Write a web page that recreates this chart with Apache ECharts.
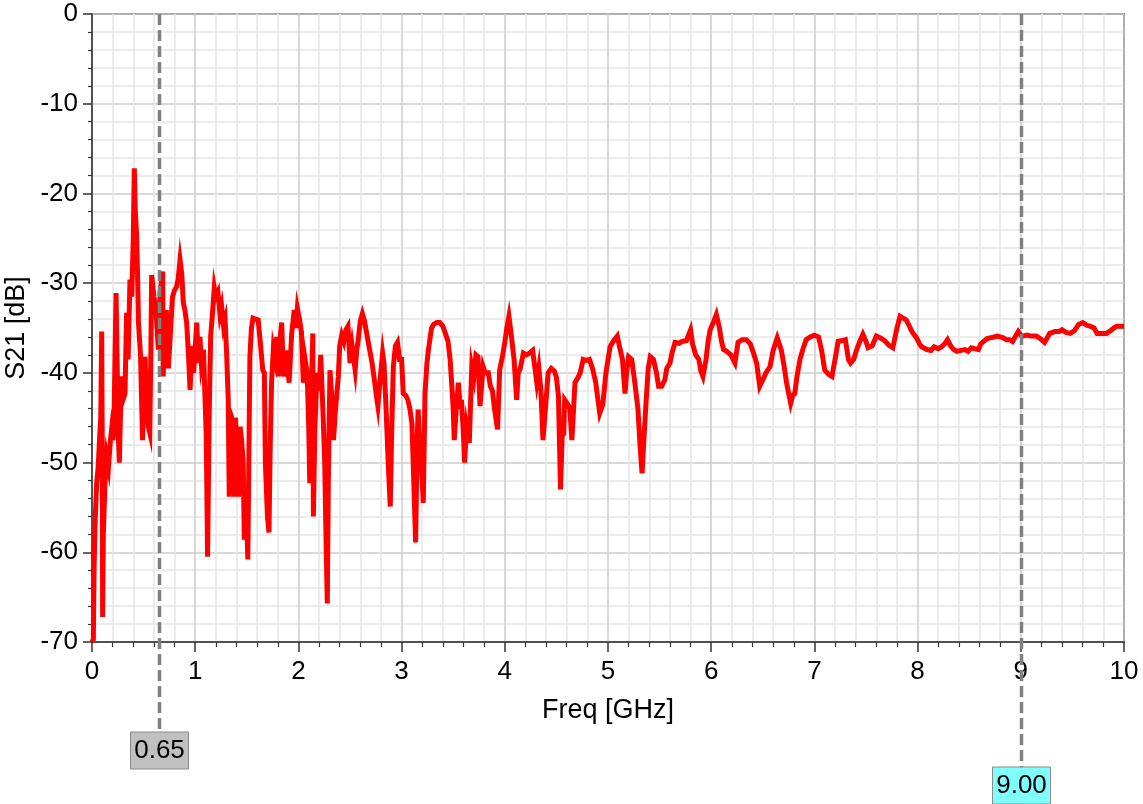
<!DOCTYPE html>
<html>
<head>
<meta charset="utf-8">
<title>S21</title>
<script src="https://cdn.jsdelivr.net/npm/echarts@6/dist/echarts.min.js"></script>
<style>
  html, body { margin: 0; padding: 0; background: #fff; }
  #chart { width: 1143px; height: 804px; }
</style>
</head>
<body>
<div id="chart"></div>
<script>
// Frequency sweep (GHz) and measured S21 (dB)
const freq = [
  0.00, 0.013, 0.02, 0.03, 0.045, 0.06, 0.075, 0.085, 0.094, 0.100, 0.103, 0.11, 0.126, 0.142, 0.16, 0.175, 0.19, 0.205, 0.215, 0.233,
  0.245, 0.255, 0.265, 0.275, 0.288, 0.30, 0.32, 0.335, 0.35, 0.368, 0.385, 0.40, 0.41, 0.42, 0.433, 0.445, 0.45, 0.47, 0.49, 0.50,
  0.514, 0.53, 0.546, 0.56, 0.57, 0.578, 0.60, 0.62, 0.643, 0.66, 0.685, 0.69, 0.70, 0.72, 0.74, 0.76, 0.78, 0.80, 0.82, 0.835,
  0.853, 0.87, 0.885, 0.90, 0.917, 0.935, 0.95, 0.97, 0.985, 1.015, 1.03, 1.046, 1.06, 1.08, 1.095, 1.107, 1.12, 1.135, 1.15, 1.17,
  1.185, 1.20, 1.22, 1.24, 1.256, 1.275, 1.29, 1.305, 1.32, 1.33, 1.34, 1.355, 1.38, 1.39, 1.40, 1.42, 1.435, 1.45, 1.465, 1.476,
  1.49, 1.51, 1.53, 1.545, 1.56, 1.585, 1.61, 1.63, 1.655, 1.67, 1.68, 1.70, 1.715, 1.727, 1.74, 1.757, 1.775, 1.79, 1.805, 1.82,
  1.838, 1.855, 1.88, 1.91, 1.935, 1.96, 1.975, 1.99, 2.01, 2.03, 2.048, 2.065, 2.085, 2.10, 2.11, 2.125, 2.14, 2.145, 2.16, 2.18,
  2.20, 2.216, 2.23, 2.24, 2.255, 2.27, 2.28, 2.29, 2.306, 2.32, 2.34, 2.36, 2.387, 2.40, 2.42, 2.44, 2.46, 2.48, 2.50, 2.52,
  2.55, 2.565, 2.58, 2.60, 2.62, 2.64, 2.66, 2.69, 2.715, 2.74, 2.755, 2.77, 2.79, 2.816, 2.83, 2.85, 2.87, 2.89, 2.905, 2.92,
  2.94, 2.96, 2.98, 3.00, 3.016, 3.04, 3.06, 3.08, 3.10, 3.115, 3.136, 3.15, 3.16, 3.18, 3.20, 3.21, 3.227, 3.245, 3.26, 3.29,
  3.31, 3.34, 3.37, 3.40, 3.43, 3.45, 3.47, 3.485, 3.50, 3.51, 3.53, 3.55, 3.57, 3.58, 3.60, 3.61, 3.63, 3.656, 3.68, 3.70,
  3.72, 3.74, 3.76, 3.79, 3.81, 3.84, 3.86, 3.88, 3.90, 3.93, 3.94, 3.95, 3.98, 4.00, 4.02, 4.04, 4.06, 4.09, 4.115, 4.13,
  4.15, 4.18, 4.21, 4.24, 4.27, 4.31, 4.33, 4.35, 4.37, 4.39, 4.42, 4.45, 4.48, 4.50, 4.52, 4.54, 4.56, 4.57, 4.58, 4.61,
  4.63, 4.65, 4.68, 4.71, 4.73, 4.76, 4.79, 4.82, 4.85, 4.88, 4.92, 4.95, 4.98, 5.02, 5.05, 5.09, 5.11, 5.14, 5.165, 5.18,
  5.20, 5.23, 5.26, 5.29, 5.31, 5.33, 5.35, 5.37, 5.39, 5.41, 5.44, 5.47, 5.49, 5.52, 5.55, 5.57, 5.60, 5.62, 5.65, 5.69,
  5.72, 5.76, 5.80, 5.82, 5.85, 5.88, 5.90, 5.92, 5.95, 5.97, 5.99, 6.02, 6.05, 6.08, 6.10, 6.12, 6.15, 6.19, 6.23, 6.26,
  6.30, 6.34, 6.38, 6.41, 6.44, 6.47, 6.50, 6.53, 6.57, 6.60, 6.64, 6.68, 6.71, 6.73, 6.77, 6.79, 6.81, 6.83, 6.86, 6.89,
  6.92, 6.96, 7.00, 7.04, 7.07, 7.10, 7.14, 7.17, 7.20, 7.23, 7.27, 7.30, 7.33, 7.35, 7.38, 7.41, 7.44, 7.47, 7.50, 7.52,
  7.56, 7.60, 7.64, 7.68, 7.72, 7.76, 7.80, 7.83, 7.86, 7.89, 7.92, 7.95, 7.99, 8.02, 8.04, 8.09, 8.13, 8.16, 8.20, 8.23,
  8.26, 8.29, 8.32, 8.35, 8.38, 8.42, 8.46, 8.49, 8.52, 8.55, 8.59, 8.61, 8.64, 8.67, 8.70, 8.74, 8.77, 8.80, 8.83, 8.86,
  8.89, 8.92, 8.95, 8.975, 9.00, 9.02, 9.06, 9.10, 9.15, 9.19, 9.23, 9.26, 9.28, 9.33, 9.37, 9.40, 9.44, 9.48, 9.52, 9.56,
  9.60, 9.64, 9.67, 9.71, 9.74, 9.79, 9.83, 9.87, 9.90, 9.93, 9.98, 10.0
];
const s21 = [
  -70, -69.7, -62, -56.7, -52.3, -50.5, -47, -45, -35.4, -50, -67.2, -58, -52.2, -49.3, -50.5, -48, -46.3, -47.5, -44, -31.1,
  -40, -47, -50.0, -45, -40.4, -43, -42.3, -33.3, -38.5, -29.6, -31.5, -25, -17.2, -22, -24.8, -31, -34.4, -38, -47.5, -44,
  -38.2, -43, -46.0, -46.7, -38, -29.1, -31.5, -33, -37.4, -31, -28.7, -40.4, -36, -33, -39.5, -35.5, -31.5, -30.8, -30.4, -29.5,
  -27.4, -29, -32.2, -33, -34.4, -38, -41.9, -37, -40, -34.4, -38.9, -36, -38.9, -37.4, -37.4, -47, -60.5, -45, -35.9, -33,
  -30.5, -31.5, -31, -33.5, -32.6, -34.8, -34.1, -38, -43.0, -53.8, -44.5, -45, -53.8, -45, -47, -53.8, -46, -47.5, -50, -58.6,
  -53, -60.8, -38.2, -35, -33.9, -34, -34.1, -36.5, -39.7, -40, -50.0, -56, -57.8, -48, -41.1, -37.4, -38.5, -36, -40.4, -36.5,
  -34.4, -40.4, -37.5, -41.1, -35.6, -33.0, -35, -32.8, -34, -35.5, -41.1, -38.5, -40, -46, -52.3, -42, -35.6, -56.0, -46, -40,
  -42, -38.0, -42, -44.9, -50, -60, -65.7, -52, -39.7, -42, -47.5, -44, -40.4, -37, -35.8, -36.5, -35.2, -34.8, -38.9, -37,
  -39.7, -37.5, -36.3, -34.2, -33.4, -34.2, -35.5, -37.4, -39, -41.1, -42.5, -43.7, -41, -37.8, -39, -44.1, -50, -54.9, -46, -39.3,
  -37, -36.6, -38.5, -38.5, -42.3, -42.5, -43, -44, -45.6, -51, -58.9, -48, -44.1, -49, -52, -54.5, -42.3, -39, -37.4, -35.0,
  -34.6, -34.4, -34.4, -34.8, -35.8, -36.5, -38.5, -41.1, -44, -47.5, -44, -41.1, -44, -43, -47, -50.0, -46, -47.8, -39.3, -40.5,
  -38, -38.2, -43.7, -39.3, -40, -40, -41.5, -42, -44, -46.3, -46.3, -39.7, -38, -36.6, -35, -33.7, -35.5, -38.5, -43.0, -40,
  -39.5, -37.8, -38, -37.8, -37.5, -41.1, -39.5, -42, -47.5, -44.5, -40.0, -39.5, -39.8, -40.5, -42.6, -53.0, -45.5, -47, -43.0, -43.5,
  -44, -47.5, -41.1, -40.5, -40, -38.5, -38.6, -38.5, -39.5, -41, -44.5, -43.5, -40, -37.1, -36.5, -35.9, -37, -38.5, -42.3, -40,
  -38.2, -38.5, -41.1, -44, -48, -51.2, -47, -43.0, -39.5, -38.2, -38.5, -40, -41.5, -41.5, -40.8, -39.5, -38.9, -37.8, -36.6, -36.7,
  -36.5, -36.4, -35.2, -36.8, -38, -38.5, -39.8, -40.4, -38.5, -36.5, -35.2, -34.4, -33.5, -35, -36.5, -37.4, -37.6, -38, -38.9, -36.6,
  -36.3, -36.3, -36.8, -37.8, -38.9, -41.5, -40.8, -40, -39.3, -37.5, -36.1, -37.5, -39.5, -41.1, -43.4, -42.5, -42.3, -40.5, -38.5, -37.3,
  -36.3, -36, -35.8, -36, -37.5, -39.7, -40.2, -40.4, -38.5, -36.5, -36.4, -36.3, -38.5, -38.9, -38.5, -37.4, -36.5, -35.7, -36.5, -37.2,
  -37, -35.9, -36.1, -36.4, -36.9, -37.2, -35, -33.7, -33.9, -34.1, -34.8, -35.5, -36.1, -36.8, -37.1, -37.4, -37.5, -37.1, -37.3, -37.1,
  -36.8, -36.3, -37, -37.4, -37.6, -37.5, -37.4, -37.6, -37.2, -37.3, -37.4, -36.8, -36.5, -36.2, -36.1, -36, -35.9, -36, -36.1, -36.3,
  -36.3, -36.5, -35.9, -35.4, -35.8, -35.9, -35.8, -35.9, -35.9, -36.2, -36.6, -36, -35.6, -35.4, -35.4, -35.2, -35.5, -35.6, -35.3, -34.6,
  -34.4, -34.7, -34.8, -35, -35.6, -35.6, -35.6, -35.3, -35, -34.8, -34.8, -34.8
];

// Cursor markers on the frequency axis
const markerFreqs = [0.65, 9.00];
const markerLabels = ['0.65', '9.00'];

const FONT = '"Liberation Sans", Arial, sans-serif';

const chart = echarts.init(document.getElementById('chart'), null, { renderer: 'canvas' });

const points = freq.map((f, i) => [f, s21[i]]);

chart.setOption({
  backgroundColor: '#ffffff',
  animation: false,
  grid: {
    left: 92, right: 19, top: 14, bottom: 162,
    containLabel: false,
    outerBoundsMode: 'none',
    show: true,
    borderColor: '#222',
    borderWidth: 1.5,
    backgroundColor: 'transparent'
  },
  xAxis: {
    type: 'value',
    min: 0, max: 10, interval: 1,
    name: 'Freq [GHz]',
    nameLocation: 'middle',
    nameGap: 55,
    nameMoveOverlap: false,
    nameTextStyle: { fontFamily: FONT, fontSize: 27, color: '#000' },
    axisLine: { onZero: false, lineStyle: { color: '#333', width: 1.5 } },
    axisTick: { show: true, inside: false, length: 10, lineStyle: { color: '#333', width: 1.5 } },
    minorTick: { show: true, splitNumber: 5, length: 5, lineStyle: { color: '#333', width: 1.2 } },
    axisLabel: { fontFamily: FONT, fontSize: 26, color: '#000', margin: 17 },
    splitLine: { show: true, lineStyle: { color: '#cccccc', width: 1.5 } },
    minorSplitLine: { show: true, lineStyle: { color: '#e6e6e6', width: 1.5 } }
  },
  yAxis: {
    type: 'value',
    min: -70, max: 0, interval: 10,
    name: 'S21 [dB]',
    nameLocation: 'middle',
    nameGap: 62,
    nameRotate: 90,
    nameMoveOverlap: false,
    nameTextStyle: { fontFamily: FONT, fontSize: 27, color: '#000' },
    axisLine: { onZero: false, lineStyle: { color: '#333', width: 1.5 } },
    axisTick: { show: true, inside: false, length: 9, lineStyle: { color: '#333', width: 1.5 } },
    minorTick: { show: true, splitNumber: 5, length: 4, lineStyle: { color: '#333', width: 1.2 } },
    axisLabel: { fontFamily: FONT, fontSize: 26, color: '#000', margin: 14 },
    splitLine: { show: true, lineStyle: { color: '#cccccc', width: 1.5 } },
    minorSplitLine: { show: true, lineStyle: { color: '#e6e6e6', width: 1.5 } }
  },
  series: [{
    type: 'line',
    data: points,
    showSymbol: false,
    symbol: 'none',
    clip: true,
    lineStyle: { color: '#ff0000', width: 5, join: 'miter' },
    z: 3
  }]
});

// Draw dashed cursor lines with their value boxes below the axis
const boxStyles = [
  { fill: '#c0c0c0', top: 732 },
  { fill: '#80ffff', top: 767 }
];
const graphics = [];
markerFreqs.forEach((f, i) => {
  const top = chart.convertToPixel({ xAxisIndex: 0, yAxisIndex: 0 }, [f, 0]);
  const x = Math.round(top[0]) + 0.5;
  const y0 = top[1];
  const st = boxStyles[i];
  graphics.push({
    type: 'line',
    z: 100,
    silent: true,
    shape: { x1: x, y1: y0, x2: x, y2: st.top },
    style: { stroke: '#808080', lineWidth: 3.5, lineDash: [11, 5] }
  });
  graphics.push({
    type: 'rect',
    z: 101,
    silent: true,
    shape: { x: x - 29, y: st.top, width: 58, height: 37 },
    style: { fill: st.fill, stroke: '#8a8a8a', lineWidth: 1 }
  });
  graphics.push({
    type: 'text',
    z: 102,
    silent: true,
    x: x,
    y: st.top + 19,
    style: {
      text: markerLabels[i],
      fill: '#000',
      font: '26px ' + FONT,
      align: 'center',
      verticalAlign: 'middle'
    }
  });
});
chart.setOption({ graphic: graphics });
</script>
</body>
</html>
